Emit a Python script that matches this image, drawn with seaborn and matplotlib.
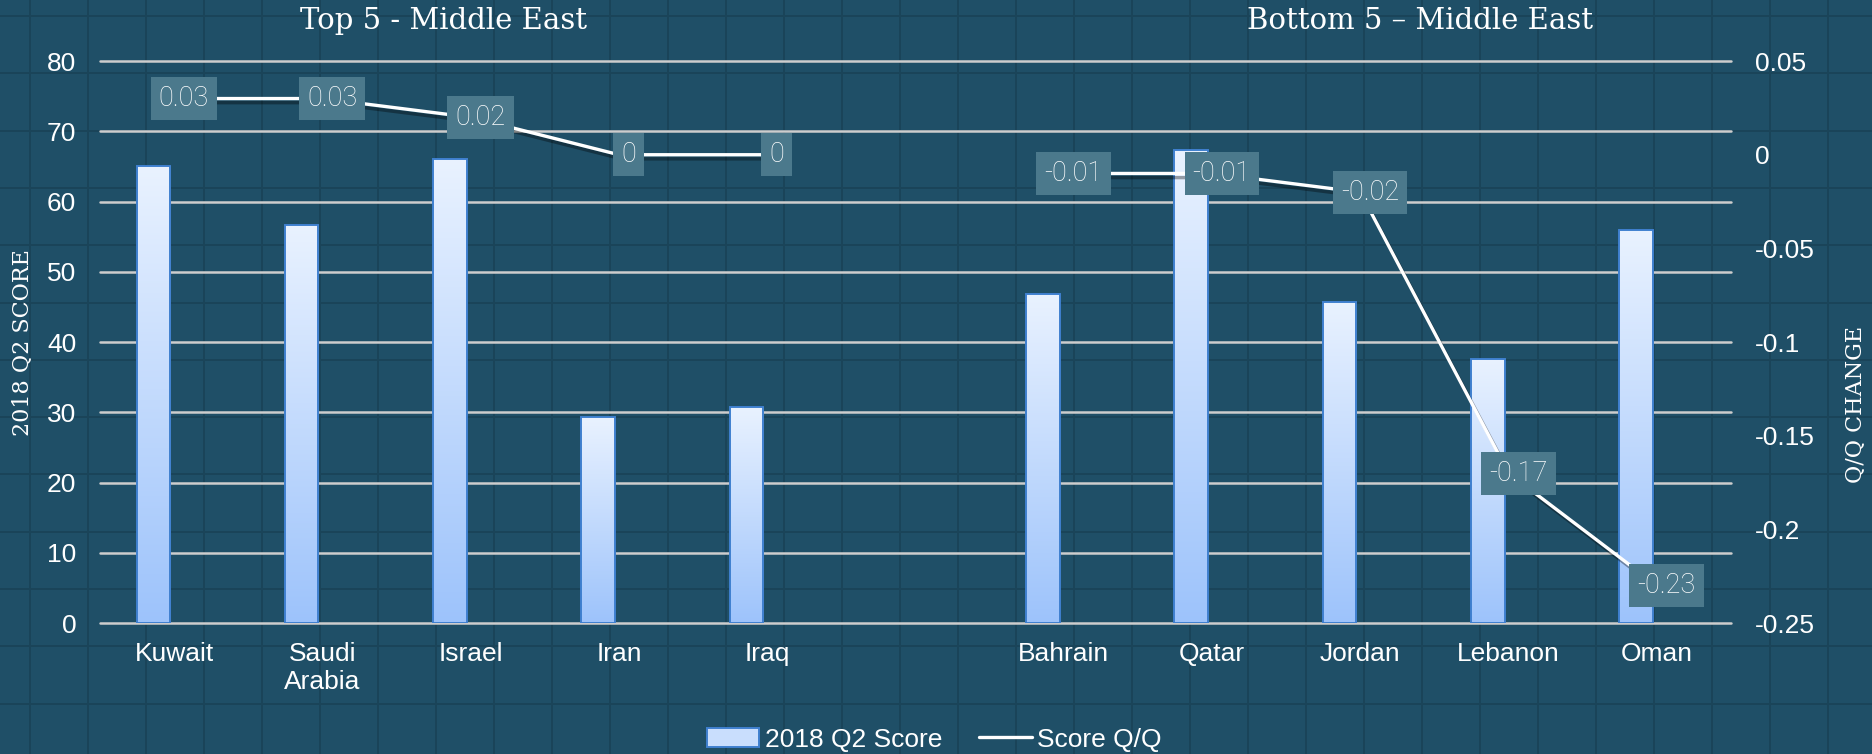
"""
Middle East scores - 2018 Q2
Top 5 / Bottom 5 with quarter-on-quarter change (two y axes)
"""

import numpy as np
import pandas as pd
import matplotlib
matplotlib.use("Agg")
import matplotlib.pyplot as plt
import matplotlib.patheffects as pe
import matplotlib.transforms as mtransforms
from matplotlib.patches import Patch
from matplotlib.lines import Line2D
import seaborn as sns

# ─────────────────────────────────────────
# DADOS
# ─────────────────────────────────────────
TOP5 = ["Kuwait", "Saudi\nArabia", "Israel", "Iran", "Iraq"]
BOTTOM5 = ["Bahrain", "Qatar", "Jordan", "Lebanon", "Oman"]

SCORE_TOP = [65.0, 56.6, 66.1, 29.3, 30.8]
SCORE_BOTTOM = [46.8, 67.4, 45.7, 37.6, 55.9]

QQ_TOP = [0.03, 0.03, 0.02, 0.0, 0.0]
QQ_BOTTOM = [-0.01, -0.01, -0.02, -0.17, -0.23]

TITULO_TOP = "Top 5 - Middle East"
TITULO_BOTTOM = "Bottom 5 \u2013 Middle East"

# ─────────────────────────────────────────
# ESTILO
# ─────────────────────────────────────────
FUNDO = "#1f4f67"
TEXTURA = "#1a4459"
GRADE = "#cdcdcd"
BARRA_TOPO = "#e9f2ff"
BARRA_BASE = "#9dc3fb"
BARRA_BORDA = "#3f80cf"
CAIXA = "#4b798c"
SANS = ["Liberation Sans", "DejaVu Sans"]
SERIF = ["DejaVu Serif"]

sns.set_theme(style="white")
plt.rcParams.update({
    "figure.facecolor": FUNDO,
    "axes.facecolor": "none",
    "text.color": "white",
    "font.family": SANS,
})

BAR_SHIFT = 0.14   # colunas deslocadas para a esquerda da categoria
BAR_WIDTH = 0.227

# posições no eixo de categorias (uma vaga entre os dois grupos)
pos_top = list(range(len(TOP5)))
pos_bottom = list(range(len(TOP5) + 1, len(TOP5) + 1 + len(BOTTOM5)))

df = pd.DataFrame({
    "pais": TOP5 + BOTTOM5,
    "pos": pos_top + pos_bottom,
    "grupo": ["top"] * len(TOP5) + ["bottom"] * len(BOTTOM5),
    "score": SCORE_TOP + SCORE_BOTTOM,
    "qq": QQ_TOP + QQ_BOTTOM,
})

fig = plt.figure(figsize=(18.72, 7.54), dpi=100)

# textura de fundo (papel quadriculado)
bg = fig.add_axes([0, 0, 1, 1], zorder=-10)
bg.set_xlim(0, 1872)
bg.set_ylim(754, 0)
bg.axis("off")
bg.vlines(np.arange(30, 1872, 58), 0, 754, color=TEXTURA, lw=1.4)
bg.hlines(np.arange(16, 754, 57.3), 0, 1872, color=TEXTURA, lw=1.4)

ax = fig.add_axes([0.0534, 0.1737, 0.9247 - 0.0534, 0.919 - 0.1737])

# ─────────────────────────────────────────
# COLUNAS - 2018 Q2 Score
# ─────────────────────────────────────────
sns.barplot(x=df["pos"] - BAR_SHIFT, y=df["score"], native_scale=True,
            width=BAR_WIDTH, errorbar=None, color=BARRA_BASE, ax=ax,
            edgecolor=BARRA_BORDA, linewidth=1.4, zorder=3)

grad = np.linspace(0, 1, 256).reshape(-1, 1)
cmap = matplotlib.colors.LinearSegmentedColormap.from_list("col", [BARRA_BASE, BARRA_TOPO])
for bar in list(ax.patches):
    x0, w, h = bar.get_x(), bar.get_width(), bar.get_height()
    img = ax.imshow(grad, extent=[x0, x0 + w, 0, h], origin="lower",
                    cmap=cmap, aspect="auto", zorder=3.5)
    img.set_clip_path(bar)
    bar.set_facecolor("none")
    bar.set_zorder(4)

ax.set_xlim(-0.5, len(TOP5) + len(BOTTOM5) + 0.5)
ax.set_ylim(0, 80)
ax.set_yticks(range(0, 81, 10))
ax.set_xticks(range(len(TOP5) + len(BOTTOM5) + 1))
ax.set_xticklabels(TOP5 + [""] + BOTTOM5)
ax.yaxis.grid(True, color=GRADE, lw=1.8)
ax.xaxis.grid(False)
ax.set_axisbelow(True)
ax.set_xlabel("")
ax.set_ylabel("")
sns.despine(ax=ax, left=True, bottom=True)
ax.tick_params(axis="y", length=0, pad=17, labelsize=19, labelcolor="white")
ax.tick_params(axis="x", length=0, pad=14, labelsize=19, labelcolor="white")
for gl in ax.yaxis.get_gridlines():
    gl.set_clip_on(False)

# ─────────────────────────────────────────
# LINHA - Score Q/Q (eixo secundário)
# ─────────────────────────────────────────
ax2 = ax.twinx()
sombra = [pe.SimpleLineShadow(offset=(2, -3), shadow_color="black", alpha=0.35),
          pe.Normal()]
for grupo in ["top", "bottom"]:
    sub = df[df["grupo"] == grupo]
    sns.lineplot(data=sub, x="pos", y="qq", ax=ax2, color="white",
                 lw=2.4, zorder=5, path_effects=sombra)

ax2.set_ylim(-0.25, 0.05)
ax2.set_yticks(np.arange(-0.25, 0.051, 0.05))
ax2.set_yticklabels(["0" if abs(v) < 1e-9 else f"{round(v, 2):g}"
                     for v in np.arange(-0.25, 0.051, 0.05)])
ax2.set_xlabel("")
ax2.set_ylabel("")
ax2.grid(False)
sns.despine(ax=ax2, left=True, bottom=True, right=True)
ax2.tick_params(axis="y", length=0, pad=17, labelsize=19, labelcolor="white")

for _, row in df.iterrows():
    ax2.annotate(f"{row['qq']:g}", xy=(row["pos"], row["qq"]),
                 xytext=(7, 0), textcoords="offset points",
                 ha="center", va="center", fontsize=19.5, color="white",
                 family=["Roboto", "DejaVu Sans"], fontweight="light",
                 bbox=dict(boxstyle="square,pad=0.3", fc=CAIXA, ec="none"),
                 zorder=6)

# ─────────────────────────────────────────
# TÍTULOS, RÓTULOS E LEGENDA
# ─────────────────────────────────────────
trans = mtransforms.blended_transform_factory(ax.transData, fig.transFigure)
ax.text(1.82, 0.972, TITULO_TOP, transform=trans, ha="center", va="center",
        fontsize=21, family=SERIF, color="white")
ax.text(8.40, 0.972, TITULO_BOTTOM, transform=trans, ha="center", va="center",
        fontsize=21, family=SERIF, color="white")

fig.text(0.0123, 0.546, "2018 Q2 SCORE", rotation=90, ha="center", va="center",
         fontsize=16, family=SERIF, color="white")
fig.text(0.9915, 0.463, "Q/Q CHANGE", rotation=90, ha="center", va="center",
         fontsize=16, family=SERIF, color="white")

handles = [Patch(facecolor="#c9defd", edgecolor=BARRA_BORDA, lw=1.4),
           Line2D([0], [0], color="white", lw=2.4)]
fig.legend(handles, ["2018 Q2 Score", "Score Q/Q"], loc="center",
           bbox_to_anchor=(0.499, 0.019), ncol=2, frameon=False,
           fontsize=19, handlelength=2.0, handletextpad=0.2,
           columnspacing=1.4, labelcolor="white")

fig.savefig("out.png", dpi=100, facecolor=fig.get_facecolor())
